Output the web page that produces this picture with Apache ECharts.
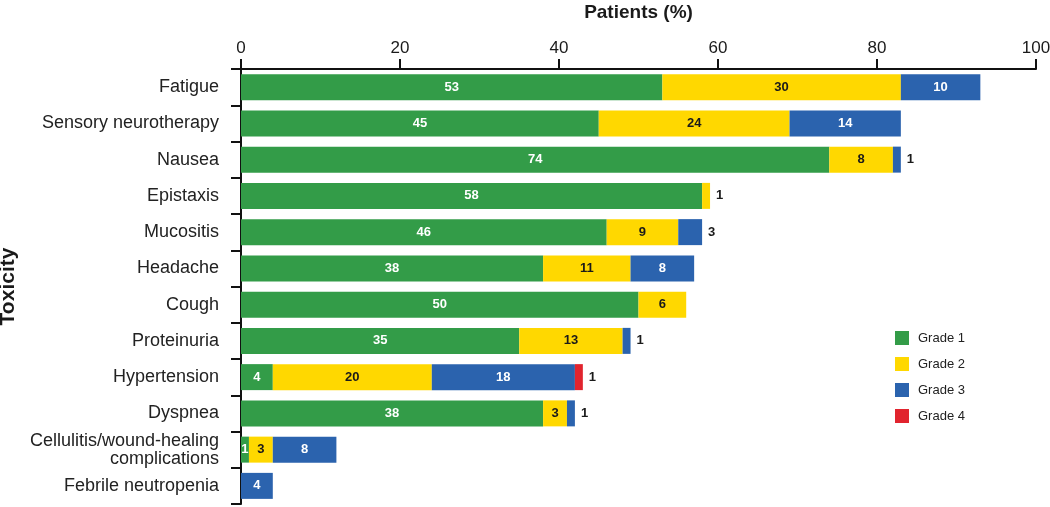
<!DOCTYPE html>
<html>
<head>
<meta charset="utf-8">
<script src="https://cdn.jsdelivr.net/npm/echarts@6/dist/echarts.min.js"></script>
<style>
html,body{margin:0;padding:0;background:#fff;}
#chart{width:1050px;height:507px;}
</style>
</head>
<body>
<div id="chart"></div>
<script>
const categories = ['Fatigue','Sensory neurotherapy','Nausea','Epistaxis','Mucositis','Headache','Cough','Proteinuria','Hypertension','Dyspnea','Cellulitis/wound-healing\ncomplications','Febrile neutropenia'];
const grade1 = [53,45,74,58,46,38,50,35,4,38,1,null];
const grade2 = [30,24,8,1,9,11,6,13,20,3,3,null];
const grade3 = [10,14,1,null,3,8,null,1,18,1,8,4];
const grade4 = [null,null,null,null,null,null,null,null,1,null,null,null];
const seriesNames = ['Grade 1','Grade 2','Grade 3','Grade 4'];
const xTicks = [0,20,40,60,80,100];

const colors = ['#339c48','#ffd800','#2b63ae','#e1242e'];
const insideText = ['#ffffff','#1a1a1a','#ffffff','#ffffff'];
const all = [grade1,grade2,grade3,grade4];
const font = 'Arial, "Liberation Sans", Helvetica, sans-serif';

function lastIdx(row){
  let l=-1; for(let s=0;s<all.length;s++){ if(all[s][row]!=null) l=s; } return l;
}

const series = all.map((arr,s)=>({
  name: seriesNames[s],
  type:'bar',
  stack:'total',
  barWidth:26,
  itemStyle:{color:colors[s]},
  data: arr.map((v,i)=>{
    if(v==null) return null;
    const outside = (lastIdx(i)===s && v<=3);
    return {
      value:v,
      label:{
        show:true,
        position: outside ? 'right' : 'inside',
        distance: 6,
        color: outside ? '#1a1a1a' : insideText[s],
        fontWeight:'bold',
        fontSize:13,
        fontFamily:font
      }
    };
  })
}));

const chart = echarts.init(document.getElementById('chart'),null,{renderer:'canvas'});
chart.setOption({
  animation:false,
  backgroundColor:'#fff',
  grid:{left:241,right:14,top:69,bottom:3,containLabel:false,outerBoundsMode:'none'},
  legend:{
    orient:'vertical',
    left:890, top:326,
    itemWidth:14, itemHeight:14, itemGap:12,
    icon:'rect',
    data: seriesNames,
    textStyle:{fontSize:13,color:'#222',fontFamily:font,padding:[0,0,0,4]}
  },
  xAxis:{
    type:'value',
    position:'top',
    min:0,max:100,interval:20,
    name:'Patients (%)',
    nameLocation:'middle',
    nameGap:47,
    nameTextStyle:{fontSize:19,fontWeight:'bold',color:'#1a1a1a',fontFamily:font},
    axisLine:{show:true,lineStyle:{color:'#111',width:2}},
    axisTick:{show:true,length:10,lineStyle:{color:'#111',width:2}},
    axisLabel:{fontSize:17,color:'#1a1a1a',margin:12,fontFamily:font,
      formatter:v=> xTicks.includes(v)? String(v):''},
    splitLine:{show:false}
  },
  yAxis:{
    type:'category',
    inverse:true,
    data:categories,
    name:'Toxicity',
    nameLocation:'middle',
    nameGap:221,
    nameRotate:90,
    nameTextStyle:{fontSize:21,fontWeight:'bold',color:'#1a1a1a',fontFamily:font},
    axisLine:{show:true,lineStyle:{color:'#111',width:2}},
    axisTick:{show:true,length:10,lineStyle:{color:'#111',width:2}},
    axisLabel:{fontSize:18,color:'#222',margin:22,fontFamily:font,lineHeight:18}
  },
  series: series
});
</script>
</body>
</html>
